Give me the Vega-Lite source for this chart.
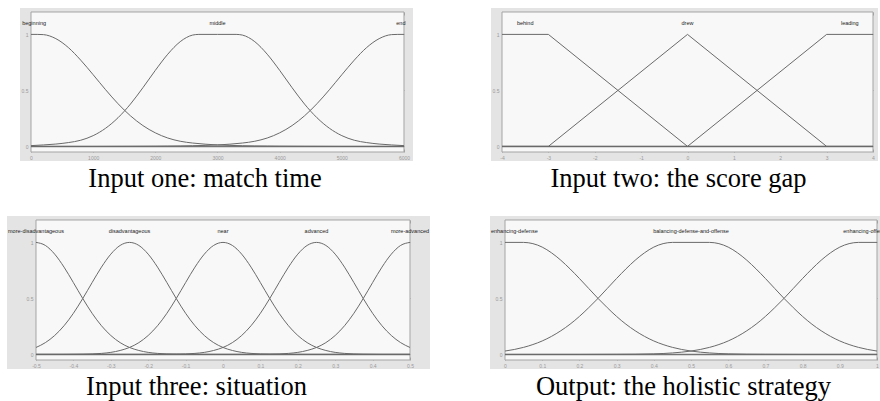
{
"$schema": "https://vega.github.io/schema/vega-lite/v6.json",
"padding": {"left": 7, "top": 8, "right": 0, "bottom": 0},
"background": "white",
"bounds": "full",
"spacing": 23,
"config": {"view": {"stroke": null}, "font": "Liberation Sans"},
"datasets": {
"p1": [
{"mf":"beginning","x":0,"y":1},{"mf":"beginning","x":100,"y":1},{"mf":"beginning","x":200,"y":0.998},{"mf":"beginning","x":400,"y":0.962},{"mf":"beginning","x":600,"y":0.883},{"mf":"beginning","x":800,"y":0.77},{"mf":"beginning","x":1000,"y":0.64},{"mf":"beginning","x":1200,"y":0.506},{"mf":"beginning","x":1400,"y":0.381},{"mf":"beginning","x":1600,"y":0.273},{"mf":"beginning","x":1800,"y":0.186},{"mf":"beginning","x":2000,"y":0.121},{"mf":"beginning","x":2200,"y":0.075},{"mf":"beginning","x":2400,"y":0.046},{"mf":"beginning","x":2600,"y":0.03},{"mf":"beginning","x":2800,"y":0.02},{"mf":"beginning","x":3000,"y":0.013},{"mf":"beginning","x":3200,"y":0.009},{"mf":"beginning","x":3400,"y":0.006},{"mf":"beginning","x":3600,"y":0.004},{"mf":"beginning","x":3800,"y":0.003},{"mf":"beginning","x":4000,"y":0.002},{"mf":"beginning","x":4400,"y":0.001},{"mf":"beginning","x":5000,"y":0},{"mf":"beginning","x":6000,"y":0},
{"mf":"middle","x":0,"y":0.007},{"mf":"middle","x":200,"y":0.013},{"mf":"middle","x":400,"y":0.021},{"mf":"middle","x":600,"y":0.034},{"mf":"middle","x":800,"y":0.055},{"mf":"middle","x":1000,"y":0.096},{"mf":"middle","x":1200,"y":0.162},{"mf":"middle","x":1400,"y":0.256},{"mf":"middle","x":1600,"y":0.378},{"mf":"middle","x":1800,"y":0.524},{"mf":"middle","x":2000,"y":0.679},{"mf":"middle","x":2200,"y":0.823},{"mf":"middle","x":2400,"y":0.935},{"mf":"middle","x":2500,"y":0.972},{"mf":"middle","x":2600,"y":0.994},{"mf":"middle","x":2700,"y":1},{"mf":"middle","x":3000,"y":1},{"mf":"middle","x":3300,"y":1},{"mf":"middle","x":3400,"y":0.994},{"mf":"middle","x":3500,"y":0.972},{"mf":"middle","x":3600,"y":0.935},{"mf":"middle","x":3800,"y":0.823},{"mf":"middle","x":4000,"y":0.679},{"mf":"middle","x":4200,"y":0.524},{"mf":"middle","x":4400,"y":0.378},{"mf":"middle","x":4600,"y":0.256},{"mf":"middle","x":4800,"y":0.162},{"mf":"middle","x":5000,"y":0.096},{"mf":"middle","x":5200,"y":0.055},{"mf":"middle","x":5400,"y":0.034},{"mf":"middle","x":5600,"y":0.021},{"mf":"middle","x":5800,"y":0.013},{"mf":"middle","x":6000,"y":0.007},
{"mf":"end","x":0,"y":0},{"mf":"end","x":1000,"y":0},{"mf":"end","x":1600,"y":0.001},{"mf":"end","x":2000,"y":0.002},{"mf":"end","x":2200,"y":0.003},{"mf":"end","x":2400,"y":0.004},{"mf":"end","x":2600,"y":0.006},{"mf":"end","x":2800,"y":0.009},{"mf":"end","x":3000,"y":0.013},{"mf":"end","x":3200,"y":0.02},{"mf":"end","x":3400,"y":0.03},{"mf":"end","x":3600,"y":0.046},{"mf":"end","x":3800,"y":0.075},{"mf":"end","x":4000,"y":0.121},{"mf":"end","x":4200,"y":0.186},{"mf":"end","x":4400,"y":0.273},{"mf":"end","x":4600,"y":0.381},{"mf":"end","x":4800,"y":0.506},{"mf":"end","x":5000,"y":0.64},{"mf":"end","x":5200,"y":0.77},{"mf":"end","x":5400,"y":0.883},{"mf":"end","x":5600,"y":0.962},{"mf":"end","x":5800,"y":0.998},{"mf":"end","x":5900,"y":1},{"mf":"end","x":6000,"y":1}
],
"p1l": [{"label":"beginning","x":50,"y":1.1},{"label":"middle","x":3000,"y":1.1},{"label":"end","x":5950,"y":1.1}],
"p2": [
{"mf":"behind","x":-4,"y":1},{"mf":"behind","x":-3,"y":1},{"mf":"behind","x":0,"y":0},{"mf":"behind","x":4,"y":0},
{"mf":"drew","x":-4,"y":0},{"mf":"drew","x":-3,"y":0},{"mf":"drew","x":0,"y":1},{"mf":"drew","x":3,"y":0},{"mf":"drew","x":4,"y":0},
{"mf":"leading","x":-4,"y":0},{"mf":"leading","x":0,"y":0},{"mf":"leading","x":3,"y":1},{"mf":"leading","x":4,"y":1}
],
"p2l": [{"label":"behind","x":-3.5,"y":1.1},{"label":"drew","x":0,"y":1.1},{"label":"leading","x":3.5,"y":1.1}],
"p3": [
{"mf":"md","x":-0.5,"y":1},{"mf":"md","x":-0.475,"y":0.973},{"mf":"md","x":-0.45,"y":0.895},{"mf":"md","x":-0.425,"y":0.779},{"mf":"md","x":-0.4,"y":0.641},{"mf":"md","x":-0.375,"y":0.499},{"mf":"md","x":-0.35,"y":0.367},{"mf":"md","x":-0.325,"y":0.256},{"mf":"md","x":-0.3,"y":0.169},{"mf":"md","x":-0.275,"y":0.105},{"mf":"md","x":-0.25,"y":0.062},{"mf":"md","x":-0.225,"y":0.035},{"mf":"md","x":-0.2,"y":0.018},{"mf":"md","x":-0.175,"y":0.009},{"mf":"md","x":-0.15,"y":0.004},{"mf":"md","x":-0.125,"y":0.002},{"mf":"md","x":-0.1,"y":0.001},{"mf":"md","x":-0.075,"y":0},{"mf":"md","x":0.5,"y":0},
{"mf":"d","x":-0.5,"y":0.062},{"mf":"d","x":-0.475,"y":0.105},{"mf":"d","x":-0.45,"y":0.169},{"mf":"d","x":-0.425,"y":0.256},{"mf":"d","x":-0.4,"y":0.367},{"mf":"d","x":-0.375,"y":0.499},{"mf":"d","x":-0.35,"y":0.641},{"mf":"d","x":-0.325,"y":0.779},{"mf":"d","x":-0.3,"y":0.895},{"mf":"d","x":-0.275,"y":0.973},{"mf":"d","x":-0.25,"y":1},{"mf":"d","x":-0.225,"y":0.973},{"mf":"d","x":-0.2,"y":0.895},{"mf":"d","x":-0.175,"y":0.779},{"mf":"d","x":-0.15,"y":0.641},{"mf":"d","x":-0.125,"y":0.499},{"mf":"d","x":-0.1,"y":0.367},{"mf":"d","x":-0.075,"y":0.256},{"mf":"d","x":-0.05,"y":0.169},{"mf":"d","x":-0.025,"y":0.105},{"mf":"d","x":0,"y":0.062},{"mf":"d","x":0.025,"y":0.035},{"mf":"d","x":0.05,"y":0.018},{"mf":"d","x":0.075,"y":0.009},{"mf":"d","x":0.1,"y":0.004},{"mf":"d","x":0.125,"y":0.002},{"mf":"d","x":0.15,"y":0.001},{"mf":"d","x":0.175,"y":0},{"mf":"d","x":0.5,"y":0},
{"mf":"n","x":-0.5,"y":0},{"mf":"n","x":-0.425,"y":0},{"mf":"n","x":-0.4,"y":0.001},{"mf":"n","x":-0.375,"y":0.002},{"mf":"n","x":-0.35,"y":0.004},{"mf":"n","x":-0.325,"y":0.009},{"mf":"n","x":-0.3,"y":0.018},{"mf":"n","x":-0.275,"y":0.035},{"mf":"n","x":-0.25,"y":0.062},{"mf":"n","x":-0.225,"y":0.105},{"mf":"n","x":-0.2,"y":0.169},{"mf":"n","x":-0.175,"y":0.256},{"mf":"n","x":-0.15,"y":0.367},{"mf":"n","x":-0.125,"y":0.499},{"mf":"n","x":-0.1,"y":0.641},{"mf":"n","x":-0.075,"y":0.779},{"mf":"n","x":-0.05,"y":0.895},{"mf":"n","x":-0.025,"y":0.973},{"mf":"n","x":0,"y":1},{"mf":"n","x":0.025,"y":0.973},{"mf":"n","x":0.05,"y":0.895},{"mf":"n","x":0.075,"y":0.779},{"mf":"n","x":0.1,"y":0.641},{"mf":"n","x":0.125,"y":0.499},{"mf":"n","x":0.15,"y":0.367},{"mf":"n","x":0.175,"y":0.256},{"mf":"n","x":0.2,"y":0.169},{"mf":"n","x":0.225,"y":0.105},{"mf":"n","x":0.25,"y":0.062},{"mf":"n","x":0.275,"y":0.035},{"mf":"n","x":0.3,"y":0.018},{"mf":"n","x":0.325,"y":0.009},{"mf":"n","x":0.35,"y":0.004},{"mf":"n","x":0.375,"y":0.002},{"mf":"n","x":0.4,"y":0.001},{"mf":"n","x":0.425,"y":0},{"mf":"n","x":0.5,"y":0},
{"mf":"a","x":-0.5,"y":0},{"mf":"a","x":-0.175,"y":0},{"mf":"a","x":-0.15,"y":0.001},{"mf":"a","x":-0.125,"y":0.002},{"mf":"a","x":-0.1,"y":0.004},{"mf":"a","x":-0.075,"y":0.009},{"mf":"a","x":-0.05,"y":0.018},{"mf":"a","x":-0.025,"y":0.035},{"mf":"a","x":0,"y":0.062},{"mf":"a","x":0.025,"y":0.105},{"mf":"a","x":0.05,"y":0.169},{"mf":"a","x":0.075,"y":0.256},{"mf":"a","x":0.1,"y":0.367},{"mf":"a","x":0.125,"y":0.499},{"mf":"a","x":0.15,"y":0.641},{"mf":"a","x":0.175,"y":0.779},{"mf":"a","x":0.2,"y":0.895},{"mf":"a","x":0.225,"y":0.973},{"mf":"a","x":0.25,"y":1},{"mf":"a","x":0.275,"y":0.973},{"mf":"a","x":0.3,"y":0.895},{"mf":"a","x":0.325,"y":0.779},{"mf":"a","x":0.35,"y":0.641},{"mf":"a","x":0.375,"y":0.499},{"mf":"a","x":0.4,"y":0.367},{"mf":"a","x":0.425,"y":0.256},{"mf":"a","x":0.45,"y":0.169},{"mf":"a","x":0.475,"y":0.105},{"mf":"a","x":0.5,"y":0.062},
{"mf":"ma","x":-0.5,"y":0},{"mf":"ma","x":0.075,"y":0},{"mf":"ma","x":0.1,"y":0.001},{"mf":"ma","x":0.125,"y":0.002},{"mf":"ma","x":0.15,"y":0.004},{"mf":"ma","x":0.175,"y":0.009},{"mf":"ma","x":0.2,"y":0.018},{"mf":"ma","x":0.225,"y":0.035},{"mf":"ma","x":0.25,"y":0.062},{"mf":"ma","x":0.275,"y":0.105},{"mf":"ma","x":0.3,"y":0.169},{"mf":"ma","x":0.325,"y":0.256},{"mf":"ma","x":0.35,"y":0.367},{"mf":"ma","x":0.375,"y":0.499},{"mf":"ma","x":0.4,"y":0.641},{"mf":"ma","x":0.425,"y":0.779},{"mf":"ma","x":0.45,"y":0.895},{"mf":"ma","x":0.475,"y":0.973},{"mf":"ma","x":0.5,"y":1}
],
"p3l": [{"label":"more-disadvantageous","x":-0.5,"y":1.1},{"label":"disadvantageous","x":-0.25,"y":1.1},{"label":"near","x":0,"y":1.1},{"label":"advanced","x":0.25,"y":1.1},{"label":"more-advanced","x":0.5,"y":1.1}],
"p4": [
{"mf":"def","x":0,"y":1},{"mf":"def","x":0.05,"y":1},{"mf":"def","x":0.075,"y":0.989},{"mf":"def","x":0.1,"y":0.958},{"mf":"def","x":0.125,"y":0.907},{"mf":"def","x":0.15,"y":0.841},{"mf":"def","x":0.175,"y":0.763},{"mf":"def","x":0.2,"y":0.678},{"mf":"def","x":0.225,"y":0.589},{"mf":"def","x":0.25,"y":0.5},{"mf":"def","x":0.275,"y":0.417},{"mf":"def","x":0.3,"y":0.339},{"mf":"def","x":0.325,"y":0.27},{"mf":"def","x":0.35,"y":0.211},{"mf":"def","x":0.375,"y":0.161},{"mf":"def","x":0.4,"y":0.12},{"mf":"def","x":0.425,"y":0.088},{"mf":"def","x":0.45,"y":0.063},{"mf":"def","x":0.475,"y":0.044},{"mf":"def","x":0.5,"y":0.03},{"mf":"def","x":0.525,"y":0.02},{"mf":"def","x":0.55,"y":0.013},{"mf":"def","x":0.575,"y":0.008},{"mf":"def","x":0.6,"y":0.005},{"mf":"def","x":0.65,"y":0.002},{"mf":"def","x":0.7,"y":0.001},{"mf":"def","x":0.8,"y":0},{"mf":"def","x":1,"y":0},
{"mf":"bal","x":0,"y":0.03},{"mf":"bal","x":0.025,"y":0.044},{"mf":"bal","x":0.05,"y":0.063},{"mf":"bal","x":0.075,"y":0.088},{"mf":"bal","x":0.1,"y":0.12},{"mf":"bal","x":0.125,"y":0.161},{"mf":"bal","x":0.15,"y":0.211},{"mf":"bal","x":0.175,"y":0.27},{"mf":"bal","x":0.2,"y":0.339},{"mf":"bal","x":0.225,"y":0.417},{"mf":"bal","x":0.25,"y":0.5},{"mf":"bal","x":0.275,"y":0.589},{"mf":"bal","x":0.3,"y":0.678},{"mf":"bal","x":0.325,"y":0.763},{"mf":"bal","x":0.35,"y":0.841},{"mf":"bal","x":0.375,"y":0.907},{"mf":"bal","x":0.4,"y":0.958},{"mf":"bal","x":0.425,"y":0.989},{"mf":"bal","x":0.45,"y":1},{"mf":"bal","x":0.55,"y":1},{"mf":"bal","x":0.575,"y":0.989},{"mf":"bal","x":0.6,"y":0.958},{"mf":"bal","x":0.625,"y":0.907},{"mf":"bal","x":0.65,"y":0.841},{"mf":"bal","x":0.675,"y":0.763},{"mf":"bal","x":0.7,"y":0.678},{"mf":"bal","x":0.725,"y":0.589},{"mf":"bal","x":0.75,"y":0.5},{"mf":"bal","x":0.775,"y":0.417},{"mf":"bal","x":0.8,"y":0.339},{"mf":"bal","x":0.825,"y":0.27},{"mf":"bal","x":0.85,"y":0.211},{"mf":"bal","x":0.875,"y":0.161},{"mf":"bal","x":0.9,"y":0.12},{"mf":"bal","x":0.925,"y":0.088},{"mf":"bal","x":0.95,"y":0.063},{"mf":"bal","x":0.975,"y":0.044},{"mf":"bal","x":1,"y":0.03},
{"mf":"off","x":0,"y":0},{"mf":"off","x":0.2,"y":0},{"mf":"off","x":0.3,"y":0.001},{"mf":"off","x":0.35,"y":0.002},{"mf":"off","x":0.4,"y":0.005},{"mf":"off","x":0.425,"y":0.008},{"mf":"off","x":0.45,"y":0.013},{"mf":"off","x":0.475,"y":0.02},{"mf":"off","x":0.5,"y":0.03},{"mf":"off","x":0.525,"y":0.044},{"mf":"off","x":0.55,"y":0.063},{"mf":"off","x":0.575,"y":0.088},{"mf":"off","x":0.6,"y":0.12},{"mf":"off","x":0.625,"y":0.161},{"mf":"off","x":0.65,"y":0.211},{"mf":"off","x":0.675,"y":0.27},{"mf":"off","x":0.7,"y":0.339},{"mf":"off","x":0.725,"y":0.417},{"mf":"off","x":0.75,"y":0.5},{"mf":"off","x":0.775,"y":0.589},{"mf":"off","x":0.8,"y":0.678},{"mf":"off","x":0.825,"y":0.763},{"mf":"off","x":0.85,"y":0.841},{"mf":"off","x":0.875,"y":0.907},{"mf":"off","x":0.9,"y":0.958},{"mf":"off","x":0.925,"y":0.989},{"mf":"off","x":0.95,"y":1},{"mf":"off","x":1,"y":1}
],
"p4l": [{"label":"enhancing-defense","x":0.025,"y":1.1},{"label":"balancing-defense-and-offense","x":0.5,"y":1.1},{"label":"enhancing-offense","x":0.97,"y":1.1}]
},
"vconcat": [
{"hconcat": [
  {"width": 13, "height": 153, "data": {"values": []}, "mark": "point"},
  {"hconcat": [
   {"width": 393, "height": 153,
    "title": {"text": "Input one: match time", "orient": "bottom", "anchor": "middle", "font": "Liberation Serif", "fontSize": 26.5, "fontWeight": "normal", "color": "#000000", "offset": 5, "dx": -11.5},
    "view": {"fill": "#e4e4e4", "stroke": null},
    "resolve": {"axis": {"x": "independent", "y": "independent"}},
    "layer": [
     {"data": {"values": [{}]}, "mark": {"type": "rect", "fill": "#f8f8f8", "stroke": "#a4a4a4", "strokeWidth": 1},
      "encoding": {
       "x": {"datum": 0, "type": "quantitative", "scale": {"domain": [-176.9, 6144.8], "nice": false, "zero": false}, "axis": {"orient": "bottom", "offset": -9, "values": [0,1000,2000,3000,4000,5000,6000], "tickSize": -3, "tickColor": "#a0a0a0", "domain": false, "grid": false, "title": null, "labelFont": "Liberation Sans", "labelFontSize": 5, "labelColor": "#9a9a9a", "labelPadding": 6, "labelFlush": false, "labelOverlap": false, "labelExpr": "'' + datum.value"}},
       "x2": {"datum": 6000},
       "y": {"datum": -0.05, "type": "quantitative", "scale": {"domain": [-0.130357, 1.235714], "nice": false, "zero": false}, "axis": {"orient": "left", "offset": -11, "values": [0,0.5,1], "tickSize": -3, "tickColor": "#a0a0a0", "domain": false, "grid": false, "title": null, "labelFont": "Liberation Sans", "labelFontSize": 5, "labelColor": "#9a9a9a", "labelPadding": 6, "labelOverlap": false, "labelExpr": "'' + datum.value"}},
       "y2": {"datum": 1.2}}},
     {"data": {"values": [{}]}, "mark": {"type": "rule", "color": "#747474", "strokeWidth": 1.5},
      "encoding": {
       "x": {"datum": 0, "type": "quantitative", "scale": {"domain": [-176.9, 6144.8], "nice": false, "zero": false}, "axis": null},
       "x2": {"datum": 6000},
       "y": {"datum": 0, "type": "quantitative", "scale": {"domain": [-0.130357, 1.235714], "nice": false, "zero": false}, "axis": null}}},
     {"data": {"name": "p1"}, "mark": {"type": "line", "interpolate": "monotone", "color": "#6a6a6a", "strokeWidth": 1},
      "encoding": {
       "x": {"field": "x", "type": "quantitative", "scale": {"domain": [-176.9, 6144.8], "nice": false, "zero": false}, "axis": {"orient": "top", "offset": -4, "values": [0,1000,2000,3000,4000,5000,6000], "tickSize": -3, "tickColor": "#a0a0a0", "labels": false, "domain": false, "grid": false, "title": null}},
       "y": {"field": "y", "type": "quantitative", "scale": {"domain": [-0.130357, 1.235714], "nice": false, "zero": false}, "axis": {"orient": "right", "offset": -9, "values": [0,0.5,1], "tickSize": -3, "tickColor": "#a0a0a0", "labels": false, "domain": false, "grid": false, "title": null}},
       "detail": {"field": "mf"}}},
     {"data": {"name": "p1l"}, "mark": {"type": "text", "font": "Liberation Sans", "fontSize": 5.5, "color": "#222222", "align": "center", "baseline": "middle"},
      "encoding": {
       "x": {"field": "x", "type": "quantitative", "scale": {"domain": [-176.9, 6144.8], "nice": false, "zero": false}, "axis": null},
       "y": {"field": "y", "type": "quantitative", "scale": {"domain": [-0.130357, 1.235714], "nice": false, "zero": false}, "axis": null},
       "text": {"field": "label"}}}
    ]},
   {"width": 387, "height": 153,
    "title": {"text": "Input two: the score gap", "orient": "bottom", "anchor": "middle", "font": "Liberation Serif", "fontSize": 26.5, "fontWeight": "normal", "color": "#000000", "offset": 5, "dx": -6},
    "view": {"fill": "#e4e4e4", "stroke": null},
    "resolve": {"axis": {"x": "independent", "y": "independent"}},
    "layer": [
     {"data": {"values": [{}]}, "mark": {"type": "rect", "fill": "#f8f8f8", "stroke": "#a4a4a4", "strokeWidth": 1},
      "encoding": {
       "x": {"datum": -4, "type": "quantitative", "scale": {"domain": [-4.2372, 4.1078], "nice": false, "zero": false}, "axis": {"orient": "bottom", "offset": -9, "values": [-4,-3,-2,-1,0,1,2,3,4], "tickSize": -3, "tickColor": "#a0a0a0", "domain": false, "grid": false, "title": null, "labelFont": "Liberation Sans", "labelFontSize": 5, "labelColor": "#9a9a9a", "labelPadding": 6, "labelFlush": false, "labelOverlap": false, "labelExpr": "'' + datum.value"}},
       "x2": {"datum": 4},
       "y": {"datum": -0.05, "type": "quantitative", "scale": {"domain": [-0.130357, 1.235714], "nice": false, "zero": false}, "axis": {"orient": "left", "offset": -11, "values": [0,0.5,1], "tickSize": -3, "tickColor": "#a0a0a0", "domain": false, "grid": false, "title": null, "labelFont": "Liberation Sans", "labelFontSize": 5, "labelColor": "#9a9a9a", "labelPadding": 6, "labelOverlap": false, "labelExpr": "'' + datum.value"}},
       "y2": {"datum": 1.2}}},
     {"data": {"values": [{}]}, "mark": {"type": "rule", "color": "#747474", "strokeWidth": 1.5},
      "encoding": {
       "x": {"datum": -4, "type": "quantitative", "scale": {"domain": [-4.2372, 4.1078], "nice": false, "zero": false}, "axis": null},
       "x2": {"datum": 4},
       "y": {"datum": 0, "type": "quantitative", "scale": {"domain": [-0.130357, 1.235714], "nice": false, "zero": false}, "axis": null}}},
     {"data": {"name": "p2"}, "mark": {"type": "line", "interpolate": "linear", "color": "#6a6a6a", "strokeWidth": 1},
      "encoding": {
       "x": {"field": "x", "type": "quantitative", "scale": {"domain": [-4.2372, 4.1078], "nice": false, "zero": false}, "axis": {"orient": "top", "offset": -4, "values": [-4,-3,-2,-1,0,1,2,3,4], "tickSize": -3, "tickColor": "#a0a0a0", "labels": false, "domain": false, "grid": false, "title": null}},
       "y": {"field": "y", "type": "quantitative", "scale": {"domain": [-0.130357, 1.235714], "nice": false, "zero": false}, "axis": {"orient": "right", "offset": -5, "values": [0,0.5,1], "tickSize": -3, "tickColor": "#a0a0a0", "labels": false, "domain": false, "grid": false, "title": null}},
       "detail": {"field": "mf"}}},
     {"data": {"name": "p2l"}, "mark": {"type": "text", "font": "Liberation Sans", "fontSize": 5.5, "color": "#222222", "align": "center", "baseline": "middle"},
      "encoding": {
       "x": {"field": "x", "type": "quantitative", "scale": {"domain": [-4.2372, 4.1078], "nice": false, "zero": false}, "axis": null},
       "y": {"field": "y", "type": "quantitative", "scale": {"domain": [-0.130357, 1.235714], "nice": false, "zero": false}, "axis": null},
       "text": {"field": "label"}}}
    ]}
  ], "spacing": 78, "bounds": "flush"}
 ], "spacing": 0, "bounds": "flush"},
{"hconcat": [
   {"width": 423, "height": 153,
    "title": {"text": "Input three: situation", "orient": "bottom", "anchor": "middle", "font": "Liberation Serif", "fontSize": 26.5, "fontWeight": "normal", "color": "#000000", "offset": 5, "dx": -22},
    "view": {"fill": "#e4e4e4", "stroke": null},
    "resolve": {"axis": {"x": "independent", "y": "independent"}},
    "layer": [
     {"data": {"values": [{}]}, "mark": {"type": "rect", "fill": "#f8f8f8", "stroke": "#a4a4a4", "strokeWidth": 1},
      "encoding": {
       "x": {"datum": -0.5, "type": "quantitative", "scale": {"domain": [-0.57754, 0.55348], "nice": false, "zero": false}, "axis": {"orient": "bottom", "offset": -9, "values": [-0.5,-0.4,-0.3,-0.2,-0.1,0,0.1,0.2,0.3,0.4,0.5], "tickSize": -3, "tickColor": "#a0a0a0", "domain": false, "grid": false, "title": null, "labelFont": "Liberation Sans", "labelFontSize": 5, "labelColor": "#9a9a9a", "labelPadding": 6, "labelFlush": false, "labelOverlap": false, "labelExpr": "'' + datum.value"}},
       "x2": {"datum": 0.5},
       "y": {"datum": -0.05, "type": "quantitative", "scale": {"domain": [-0.130357, 1.235714], "nice": false, "zero": false}, "axis": {"orient": "left", "offset": -29, "values": [0,0.5,1], "tickSize": -3, "tickColor": "#a0a0a0", "domain": false, "grid": false, "title": null, "labelFont": "Liberation Sans", "labelFontSize": 5, "labelColor": "#9a9a9a", "labelPadding": 6, "labelOverlap": false, "labelExpr": "'' + datum.value"}},
       "y2": {"datum": 1.2}}},
     {"data": {"values": [{}]}, "mark": {"type": "rule", "color": "#747474", "strokeWidth": 1.5},
      "encoding": {
       "x": {"datum": -0.5, "type": "quantitative", "scale": {"domain": [-0.57754, 0.55348], "nice": false, "zero": false}, "axis": null},
       "x2": {"datum": 0.5},
       "y": {"datum": 0, "type": "quantitative", "scale": {"domain": [-0.130357, 1.235714], "nice": false, "zero": false}, "axis": null}}},
     {"data": {"name": "p3"}, "mark": {"type": "line", "interpolate": "monotone", "color": "#6a6a6a", "strokeWidth": 1},
      "encoding": {
       "x": {"field": "x", "type": "quantitative", "scale": {"domain": [-0.57754, 0.55348], "nice": false, "zero": false}, "axis": {"orient": "top", "offset": -4, "values": [-0.5,-0.4,-0.3,-0.2,-0.1,0,0.1,0.2,0.3,0.4,0.5], "tickSize": -3, "tickColor": "#a0a0a0", "labels": false, "domain": false, "grid": false, "title": null}},
       "y": {"field": "y", "type": "quantitative", "scale": {"domain": [-0.130357, 1.235714], "nice": false, "zero": false}, "axis": {"orient": "right", "offset": -20, "values": [0,0.5,1], "tickSize": -3, "tickColor": "#a0a0a0", "labels": false, "domain": false, "grid": false, "title": null}},
       "detail": {"field": "mf"}}},
     {"data": {"name": "p3l"}, "mark": {"type": "text", "font": "Liberation Sans", "fontSize": 5.5, "color": "#222222", "align": "center", "baseline": "middle"},
      "encoding": {
       "x": {"field": "x", "type": "quantitative", "scale": {"domain": [-0.57754, 0.55348], "nice": false, "zero": false}, "axis": null},
       "y": {"field": "y", "type": "quantitative", "scale": {"domain": [-0.130357, 1.235714], "nice": false, "zero": false}, "axis": null},
       "text": {"field": "label"}}}
    ]},
   {"width": 390, "height": 153,
    "title": {"text": "Output: the holistic strategy", "orient": "bottom", "anchor": "middle", "font": "Liberation Serif", "fontSize": 26.5, "fontWeight": "normal", "color": "#000000", "offset": 5, "dx": -1.5},
    "view": {"fill": "#e4e4e4", "stroke": null},
    "resolve": {"axis": {"x": "independent", "y": "independent"}},
    "layer": [
     {"data": {"values": [{}]}, "mark": {"type": "rect", "fill": "#f8f8f8", "stroke": "#a4a4a4", "strokeWidth": 1},
      "encoding": {
       "x": {"datum": 0, "type": "quantitative", "scale": {"domain": [-0.040323, 1.0080645], "nice": false, "zero": false}, "axis": {"orient": "bottom", "offset": -9, "values": [0,0.1,0.2,0.3,0.4,0.5,0.6,0.7,0.8,0.9,1], "tickSize": -3, "tickColor": "#a0a0a0", "domain": false, "grid": false, "title": null, "labelFont": "Liberation Sans", "labelFontSize": 5, "labelColor": "#9a9a9a", "labelPadding": 6, "labelFlush": false, "labelOverlap": false, "labelExpr": "'' + datum.value"}},
       "x2": {"datum": 1},
       "y": {"datum": -0.05, "type": "quantitative", "scale": {"domain": [-0.130357, 1.235714], "nice": false, "zero": false}, "axis": {"orient": "left", "offset": -15, "values": [0,0.5,1], "tickSize": -3, "tickColor": "#a0a0a0", "domain": false, "grid": false, "title": null, "labelFont": "Liberation Sans", "labelFontSize": 5, "labelColor": "#9a9a9a", "labelPadding": 6, "labelOverlap": false, "labelExpr": "'' + datum.value"}},
       "y2": {"datum": 1.2}}},
     {"data": {"values": [{}]}, "mark": {"type": "rule", "color": "#747474", "strokeWidth": 1.5},
      "encoding": {
       "x": {"datum": 0, "type": "quantitative", "scale": {"domain": [-0.040323, 1.0080645], "nice": false, "zero": false}, "axis": null},
       "x2": {"datum": 1},
       "y": {"datum": 0, "type": "quantitative", "scale": {"domain": [-0.130357, 1.235714], "nice": false, "zero": false}, "axis": null}}},
     {"data": {"name": "p4"}, "mark": {"type": "line", "interpolate": "monotone", "color": "#6a6a6a", "strokeWidth": 1},
      "encoding": {
       "x": {"field": "x", "type": "quantitative", "scale": {"domain": [-0.040323, 1.0080645], "nice": false, "zero": false}, "axis": {"orient": "top", "offset": -4, "values": [0,0.1,0.2,0.3,0.4,0.5,0.6,0.7,0.8,0.9,1], "tickSize": -3, "tickColor": "#a0a0a0", "labels": false, "domain": false, "grid": false, "title": null}},
       "y": {"field": "y", "type": "quantitative", "scale": {"domain": [-0.130357, 1.235714], "nice": false, "zero": false}, "axis": {"orient": "right", "offset": -3, "values": [0,0.5,1], "tickSize": -3, "tickColor": "#a0a0a0", "labels": false, "domain": false, "grid": false, "title": null}},
       "detail": {"field": "mf"}}},
     {"data": {"name": "p4l"}, "mark": {"type": "text", "font": "Liberation Sans", "fontSize": 5.5, "color": "#222222", "align": "center", "baseline": "middle"},
      "encoding": {
       "x": {"field": "x", "type": "quantitative", "scale": {"domain": [-0.040323, 1.0080645], "nice": false, "zero": false}, "axis": null},
       "y": {"field": "y", "type": "quantitative", "scale": {"domain": [-0.130357, 1.235714], "nice": false, "zero": false}, "axis": null},
       "text": {"field": "label"}}}
    ]}
 ], "spacing": 60, "bounds": "flush"}
]
}
